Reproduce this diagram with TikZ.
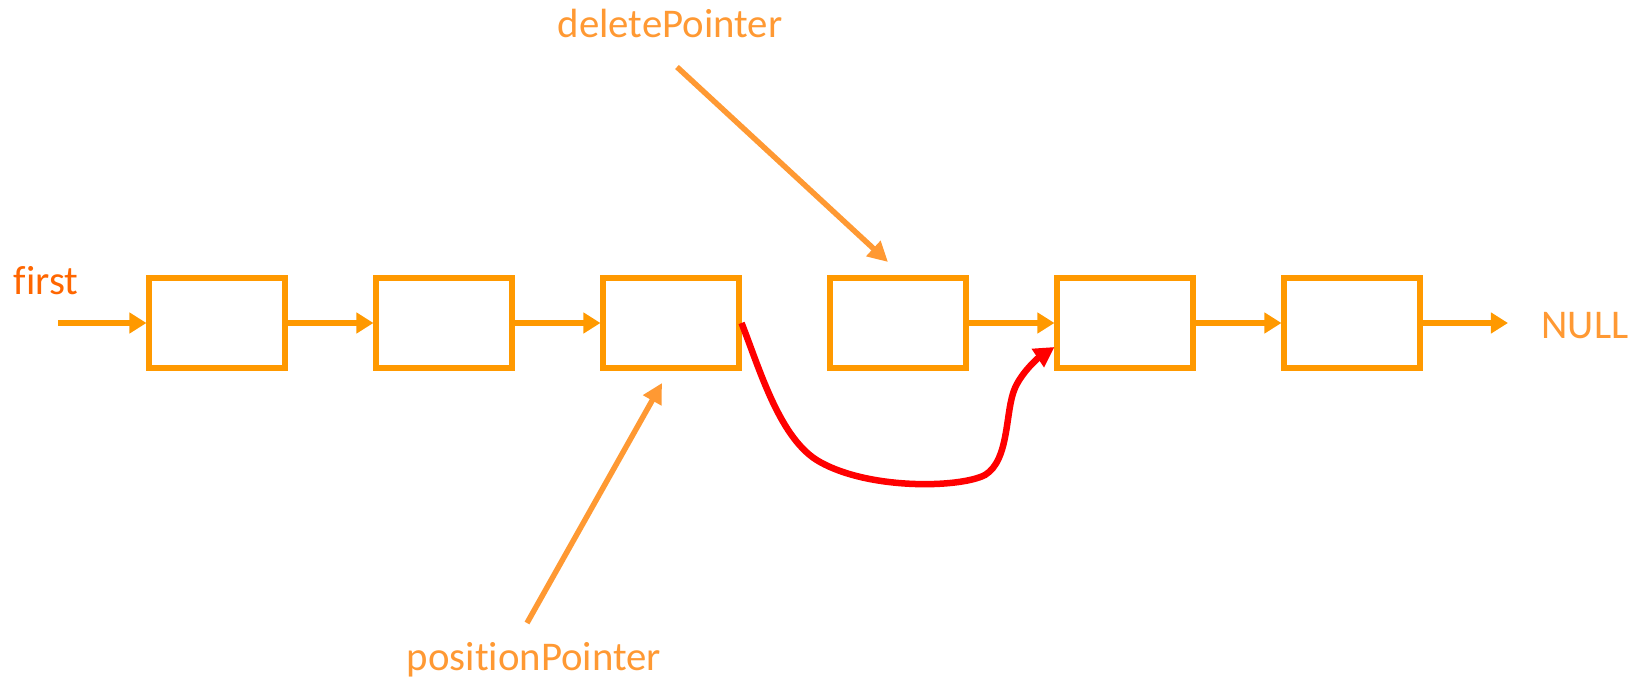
\documentclass[tikz,border=0pt]{standalone}
\usepackage{fontspec}
\setmainfont[Ligatures=NoCommon]{Carlito}
\usetikzlibrary{arrows.meta,calc}
\definecolor{boxorange}{HTML}{FF9900}
\definecolor{ptrorange}{HTML}{FF9933}
\definecolor{firstorange}{HTML}{FF6600}
\definecolor{linkred}{HTML}{FF0000}

\begin{document}
\begin{tikzpicture}[x=0.01cm,y=-0.01cm,
  cell/.style={draw=boxorange,line width=0.06cm,minimum width=1.35cm,
    minimum height=0.90cm,inner sep=0pt},
  link/.style={draw=boxorange,line width=0.06cm,
    -{Triangle[length=0.17cm,width=0.2cm]}},
  pointer/.style={draw=ptrorange,line width=0.055cm,
    -{Triangle[length=0.2cm,width=0.2cm]}},
  relink/.style={draw=linkred,line width=0.065cm,
    -{Triangle[length=0.2cm,width=0.21cm]}},
  label/.style={font=\fontsize{11.6pt}{14pt}\selectfont,inner sep=0pt,anchor=base}]

  % canvas
  \path[use as bounding box] (0,0) rectangle (1647,679);

  % list cells
  \foreach \i in {1,...,6}
    \node[cell] (b\i) at ({217+227*(\i-1)},323) {};

  % labels
  \node[label,text=firstorange] (first) at (46,295) {first};
  \node[label,text=ptrorange] (null) at (1585,339) {NULL};
  \node[label,text=ptrorange] (del) at (670,38) {deletePointer};
  \node[label,text=ptrorange] (pos) at (534,671) {positionPointer};

  % free ends
  \coordinate (fstart) at (58,323);
  \coordinate (nullend) at (1508,323);
  \coordinate (dstart) at (677,67);
  \coordinate (dtip) at (888,262);
  \coordinate (pstart) at (527,623);
  \coordinate (ptip) at (662,383);

  % next links
  \draw[link] (fstart) -- (b1.west);
  \draw[link] (b1.east) -- (b2.west);
  \draw[link] (b2.east) -- (b3.west);
  \draw[link] (b4.east) -- (b5.west);
  \draw[link] (b5.east) -- (b6.west);
  \draw[link] (b6.east) -- (nullend);

  % pointers
  \draw[pointer] (dstart) -- (dtip);
  \draw[pointer] (pstart) -- (ptip);

  % bypass link around the deleted cell
  \draw[relink] (b3.east)
    .. controls (760,370) and (780,440) .. (820,462)
    .. controls (870,490) and (960,488) .. (985,475)
    .. controls (1010,460) and (1005,410) .. (1015,388)
    .. controls (1022,372) and (1038,358) .. ([yshift=-0.24cm]b5.west);
\end{tikzpicture}
\end{document}
